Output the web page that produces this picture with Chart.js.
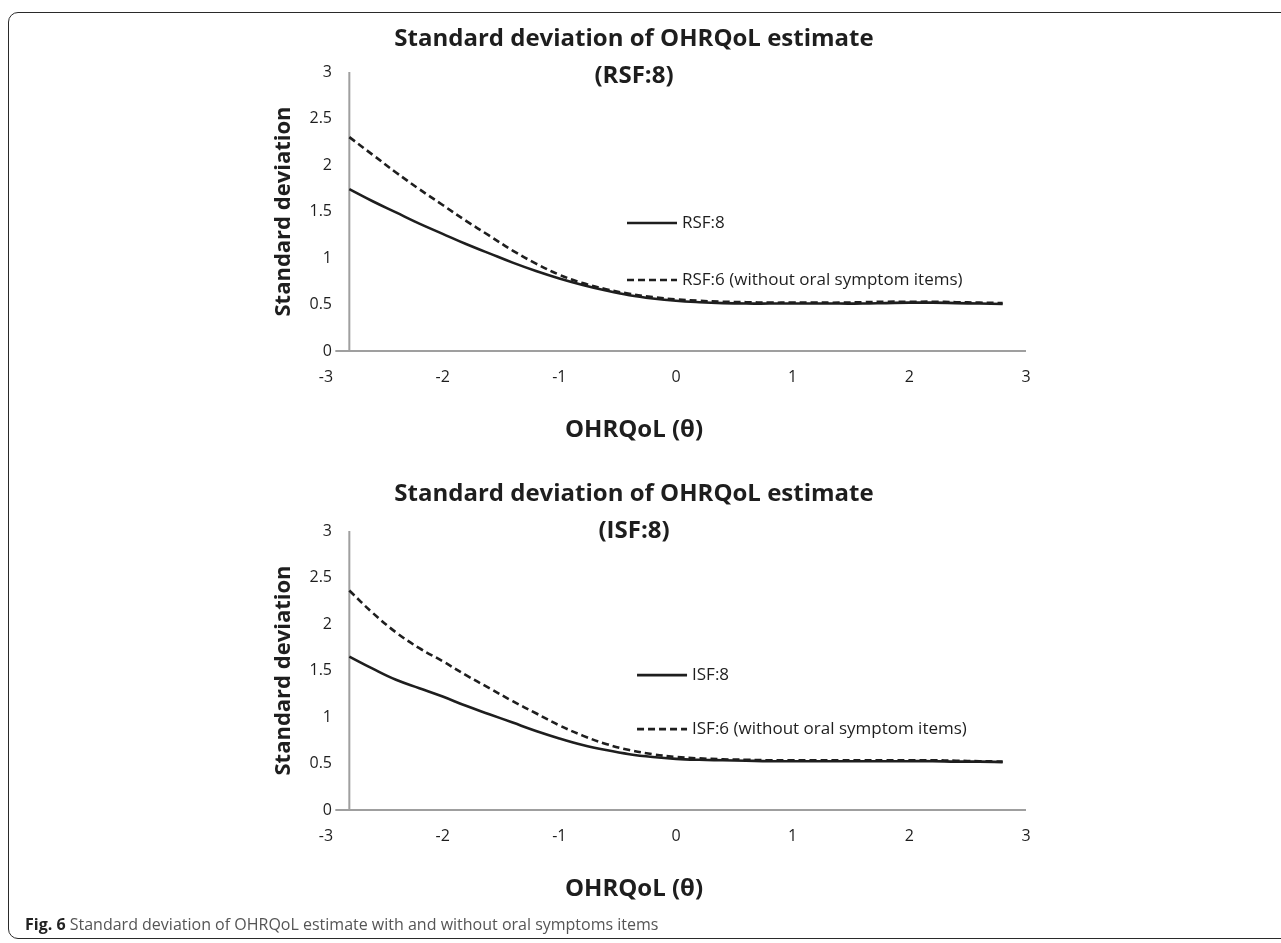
<!DOCTYPE html>
<html>
<head>
<meta charset="utf-8">
<title>Standard deviation of OHRQoL estimate</title>
<script src="https://cdn.jsdelivr.net/npm/chart.js@4.4.1/dist/chart.umd.min.js"></script>
<style>
  html, body { margin: 0; padding: 0; background: #fff; }
  body { width: 1281px; height: 943px; position: relative; overflow: hidden; }
  .frame { position: absolute; left: 8px; top: 12px; width: 1320px; height: 927px;
           border: 1.5px solid #2a2a2a; border-radius: 10px; box-sizing: border-box; }
  canvas { position: absolute; left: 0; }
  #sdRsf { top: 0; }
  #sdIsf { top: 459px; }
  .caption { position: absolute; left: 25px; top: 913px; font-family: "Open Sans", sans-serif;
             font-size: 16px; color: #555; white-space: nowrap; }
  .caption b { color: #222; }
</style>
</head>
<body>
<div class="frame"></div>
<canvas id="sdRsf" width="1281" height="459"></canvas>
<canvas id="sdIsf" width="1281" height="459"></canvas>
<div class="caption"><b>Fig. 6</b> Standard deviation of OHRQoL estimate with and without oral symptoms items</div>

<script>
// theta grid (x) shared by all curves
const theta = [-2.8, -2.6, -2.4, -2.2, -2.0, -1.8, -1.6, -1.4, -1.2, -1.0, -0.8, -0.6, -0.4, -0.2, 0,
               0.2, 0.4, 0.6, 0.8, 1.0, 1.2, 1.4, 1.6, 1.8, 2.0, 2.2, 2.4, 2.6, 2.8];

// RSF panel
const rsf8 = [1.74, 1.61, 1.49, 1.37, 1.26, 1.15, 1.05, 0.95, 0.86, 0.78, 0.71, 0.65, 0.60, 0.565, 0.54,
              0.525, 0.515, 0.51, 0.51, 0.51, 0.51, 0.51, 0.51, 0.515, 0.52, 0.52, 0.515, 0.51, 0.505];
const rsf6 = [2.30, 2.11, 1.92, 1.74, 1.57, 1.40, 1.24, 1.08, 0.94, 0.82, 0.73, 0.665, 0.615, 0.58, 0.555,
              0.54, 0.53, 0.525, 0.52, 0.52, 0.52, 0.52, 0.525, 0.53, 0.53, 0.53, 0.525, 0.52, 0.515];

// ISF panel
const isf8 = [1.65, 1.52, 1.40, 1.31, 1.22, 1.12, 1.03, 0.94, 0.85, 0.77, 0.70, 0.645, 0.60, 0.57, 0.55,
              0.54, 0.535, 0.53, 0.525, 0.525, 0.525, 0.525, 0.525, 0.525, 0.525, 0.525, 0.52, 0.52, 0.515];
const isf6 = [2.36, 2.12, 1.91, 1.74, 1.60, 1.45, 1.31, 1.17, 1.04, 0.91, 0.80, 0.71, 0.645, 0.60, 0.57,
              0.555, 0.545, 0.54, 0.535, 0.535, 0.535, 0.535, 0.535, 0.535, 0.535, 0.535, 0.53, 0.525, 0.52];

// tick labels
const xTicks = [-3, -2, -1, 0, 1, 2, 3];
const yTicks = [0, 0.5, 1, 1.5, 2, 2.5, 3];

const INK = '#1e1e1e';
const AXIS = '#9f9f9f';
const TICK_FONT = { family: 'Open Sans', size: 16 };

// widest y label, so the right-aligned labels end just left of the axis
const measure = document.createElement('canvas').getContext('2d');
measure.font = '16px "Open Sans"';
const widestY = Math.max(...yTicks.map(v => measure.measureText(String(v)).width));

// vertical axis crosses at theta = -2.8 like the Excel original
const crossAxes = {
    id: 'crossAxes',
    beforeDatasetsDraw(chart, args, opts) {
        const { ctx, scales: { x, y } } = chart;
        const x0 = x.getPixelForValue(opts.crossX);
        const y0 = y.getPixelForValue(0);
        ctx.save();
        ctx.strokeStyle = AXIS;
        ctx.lineWidth = 2;
        ctx.beginPath();
        ctx.moveTo(x0, y.getPixelForValue(y.max));
        ctx.lineTo(x0, y0);
        ctx.moveTo(x.getPixelForValue(opts.lineFrom), y0);
        ctx.lineTo(x.getPixelForValue(x.max), y0);
        ctx.stroke();
        ctx.restore();
    }
};

// legend drawn inside the plot, anchored on data values
const inlineLegend = {
    id: 'inlineLegend',
    afterDatasetsDraw(chart, args, opts) {
        const { ctx, scales: { x, y } } = chart;
        const lx = x.getPixelForValue(opts.x);
        chart.data.datasets.forEach((ds, i) => {
            const ly = y.getPixelForValue(opts.y[i]);
            ctx.save();
            ctx.strokeStyle = ds.borderColor;
            ctx.lineWidth = ds.borderWidth;
            ctx.setLineDash(ds.borderDash || []);
            ctx.beginPath();
            ctx.moveTo(lx, ly);
            ctx.lineTo(lx + 50, ly);
            ctx.stroke();
            ctx.setLineDash([]);
            ctx.fillStyle = INK;
            ctx.font = '17px "Open Sans"';
            ctx.textBaseline = 'middle';
            ctx.fillText(ds.label, lx + 55, ly);
            ctx.restore();
        });
    }
};

function points(ys) {
    return theta.map((t, i) => ({ x: t, y: ys[i] }));
}

function drawPanel(id, tag, full, short, legendAt, titleTop) {
    new Chart(document.getElementById(id), {
        type: 'line',
        data: {
            datasets: [{
                label: tag + ':8',
                data: points(full),
                borderColor: INK,
                borderWidth: 2.6,
                pointRadius: 0,
                tension: 0.4
            }, {
                label: tag + ':6 (without oral symptom items)',
                data: points(short),
                borderColor: INK,
                borderWidth: 2.6,
                borderDash: [7, 4],
                pointRadius: 0,
                tension: 0.4
            }]
        },
        options: {
            responsive: false,
            animation: false,
            events: [],
            layout: { padding: { left: 242, right: 255, top: 0, bottom: 14.6 } },
            plugins: {
                legend: { display: false },
                tooltip: { enabled: false },
                title: {
                    display: true,
                    text: ['Standard deviation of OHRQoL estimate', '(' + tag + ':8)'],
                    color: INK,
                    font: { family: 'Open Sans', size: 24, weight: 'bold', lineHeight: 1.55 },
                    // title box ends at the top of the plot (72px), lines overlap the axis top
                    padding: { top: titleTop, bottom: 72 - titleTop - 74.4 }
                },
                subtitle: {
                    display: true,
                    position: 'bottom',
                    text: 'OHRQoL (θ)',
                    color: INK,
                    font: { family: 'Open Sans', size: 24, weight: 'bold', lineHeight: 1.2 },
                    padding: 0
                },
                crossAxes: { crossX: -2.8, lineFrom: -2.92 },
                inlineLegend: legendAt
            },
            scales: {
                x: {
                    type: 'linear',
                    min: -3,
                    max: 3,
                    afterBuildTicks: s => { s.ticks = xTicks.map(v => ({ value: v })); },
                    afterFit: s => { s.height = 64.6; },
                    ticks: {
                        padding: 17,
                        color: INK,
                        font: TICK_FONT,
                        callback: v => String(v)
                    },
                    grid: { display: false, drawTicks: false },
                    border: { display: false }
                },
                y: {
                    min: 0,
                    max: 3,
                    afterBuildTicks: s => { s.ticks = yTicks.map(v => ({ value: v })); },
                    afterFit: s => { s.width = 84; },
                    ticks: {
                        mirror: true,
                        crossAlign: 'far',
                        padding: 6 - widestY,
                        color: INK,
                        font: TICK_FONT,
                        callback: v => String(v)
                    },
                    grid: { display: false, drawTicks: false },
                    border: { display: false },
                    title: {
                        display: true,
                        text: 'Standard deviation',
                        color: INK,
                        font: { family: 'Open Sans', size: 22, weight: 'bold', lineHeight: 1.2 },
                        padding: { top: 29, bottom: 0 }
                    }
                }
            }
        },
        plugins: [crossAxes, inlineLegend]
    });
}

drawPanel('sdRsf', 'RSF', rsf8, rsf6, { x: -0.42, y: [1.376, 0.763] }, 20.4);
drawPanel('sdIsf', 'ISF', isf8, isf6, { x: -0.334, y: [1.45, 0.87] }, 16.4);
</script>
</body>
</html>
